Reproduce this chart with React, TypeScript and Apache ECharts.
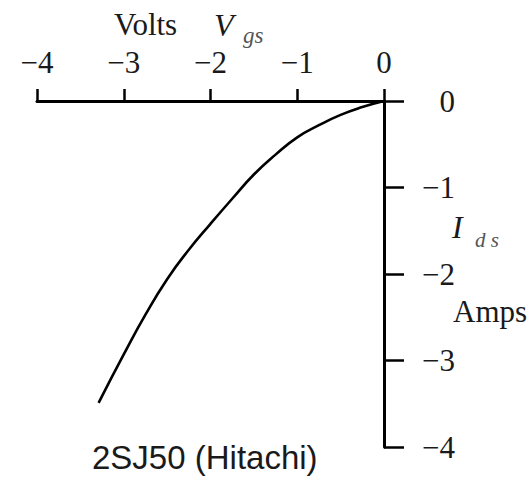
import React, { useEffect, useRef } from "react";
import * as echarts from "echarts";

// Gate–source voltage (V) and drain–source current (A) for the 2SJ50
const vgs = [-3.29, -3.0, -2.75, -2.5, -2.25, -2.0, -1.75, -1.5, -1.25, -1.0, -0.75, -0.5, -0.25, 0];
const ids = [-3.49, -2.93, -2.47, -2.06, -1.72, -1.42, -1.13, -0.85, -0.62, -0.42, -0.28, -0.16, -0.07, 0];

const xTicks = [-4, -3, -2, -1, 0];
const yTicks = [-4, -3, -2, -1, 0];

const SERIF = "'Liberation Serif', 'DejaVu Serif', serif";
const SANS = "'Liberation Sans', Arial, sans-serif";
const INK = "#1a1a1a";
const SUB = "#555";

const fmt = (v: number) => (v < 0 ? "\u2212" + Math.abs(v) : String(v));

export default function App() {
  const ref = useRef<HTMLDivElement>(null);

  useEffect(() => {
    document.body.style.margin = "0";
    if (!ref.current) return;
    const chart = echarts.init(ref.current, null, { renderer: "svg" });
    chart.setOption({
      animation: false,
      backgroundColor: "#ffffff",
      grid: { left: 37, right: 147, top: 101, bottom: 30 },
      xAxis: {
        type: "value",
        position: "top",
        min: -4,
        max: 0,
        interval: 1,
        splitLine: { show: false },
        axisLine: { show: true, onZero: false, lineStyle: { color: "#000", width: 3 } },
        axisTick: {
          show: true,
          inside: false,
          length: 12,
          customValues: xTicks,
          lineStyle: { color: "#000", width: 2.5 },
        },
        axisLabel: {
          customValues: xTicks,
          formatter: fmt,
          margin: 23,
          fontFamily: SERIF,
          fontSize: 31,
          color: INK,
        },
      },
      yAxis: {
        type: "value",
        position: "right",
        min: -4,
        max: 0,
        interval: 1,
        splitLine: { show: false },
        axisLine: { show: true, onZero: false, lineStyle: { color: "#000", width: 3 } },
        axisTick: {
          show: true,
          inside: false,
          length: 20,
          customValues: yTicks,
          lineStyle: { color: "#000", width: 2.5 },
        },
        axisLabel: {
          customValues: yTicks,
          formatter: fmt,
          margin: 71,
          align: "right",
          fontFamily: SERIF,
          fontSize: 31,
          color: INK,
        },
      },
      graphic: [
        {
          type: "text",
          x: 114,
          y: 24,
          style: { text: "Volts", font: `31px ${SERIF}`, fill: INK, verticalAlign: "middle" },
        },
        {
          type: "text",
          x: 214,
          y: 25,
          style: { text: "V", font: `italic 32px ${SERIF}`, fill: INK, verticalAlign: "middle" },
        },
        {
          type: "text",
          x: 243,
          y: 35,
          style: { text: "gs", font: `italic 23px ${SERIF}`, fill: SUB, verticalAlign: "middle" },
        },
        {
          type: "text",
          x: 452,
          y: 227,
          style: { text: "I", font: `italic 32px ${SERIF}`, fill: INK, verticalAlign: "middle" },
        },
        {
          type: "text",
          x: 475,
          y: 240,
          style: { text: "d s", font: `italic 21px ${SERIF}`, fill: SUB, verticalAlign: "middle" },
        },
        {
          type: "text",
          x: 453,
          y: 311,
          style: { text: "Amps", font: `31px ${SERIF}`, fill: INK, verticalAlign: "middle" },
        },
        {
          type: "text",
          x: 92,
          y: 457,
          style: { text: "2SJ50 (Hitachi)", font: `33px ${SANS}`, fill: INK, verticalAlign: "middle" },
        },
      ],
      series: [
        {
          type: "line",
          data: vgs.map((v, i) => [v, ids[i]]),
          smooth: 0.5,
          symbol: "none",
          lineStyle: { color: "#000", width: 2.6 },
        },
      ],
    });
    return () => chart.dispose();
  }, []);

  return <div ref={ref} style={{ width: 531, height: 477 }} />;
}
